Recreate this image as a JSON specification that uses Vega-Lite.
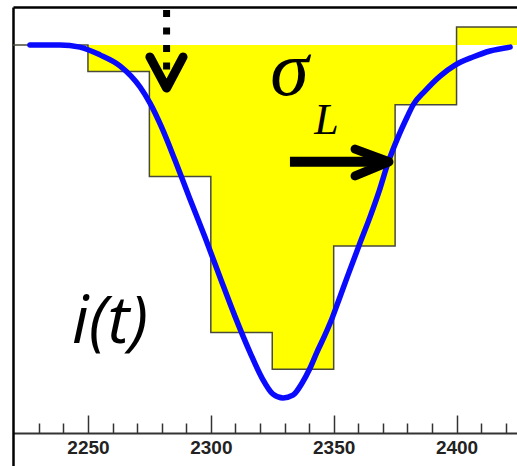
{
  "$schema": "https://vega.github.io/schema/vega-lite/v6.json",
  "width": 504,
  "height": 459,
  "autosize": "none",
  "padding": {"left": 13, "top": 7, "right": 0, "bottom": 0},
  "background": "white",
  "config": {"view": {"stroke": null}},
  "datasets": {
    "steps": [
      {"t": 2219.5, "level": 100},
      {"t": 2250, "level": 92.5},
      {"t": 2275, "level": 62.75},
      {"t": 2300, "level": 18.55},
      {"t": 2325, "level": 8.16},
      {"t": 2350, "level": 43.06},
      {"t": 2375, "level": 83.09},
      {"t": 2400, "level": 105.1},
      {"t": 2424.6, "level": 105.1}
    ],
    "curve": [
      {"t": 2226.4, "i": 100.0}, {"t": 2238.6, "i": 100.0}, {"t": 2246.7, "i": 99.4},
      {"t": 2254.9, "i": 97.2}, {"t": 2263.0, "i": 94.1}, {"t": 2271.2, "i": 88.1},
      {"t": 2275.2, "i": 83.6}, {"t": 2280.1, "i": 76.5}, {"t": 2285.4, "i": 67.4},
      {"t": 2291.5, "i": 56.4}, {"t": 2297.6, "i": 45.6}, {"t": 2303.7, "i": 34.3},
      {"t": 2309.8, "i": 23.2}, {"t": 2315.9, "i": 13.0}, {"t": 2320.8, "i": 5.7},
      {"t": 2325.3, "i": 1.1}, {"t": 2329.4, "i": 0.0}, {"t": 2333.4, "i": 0.8},
      {"t": 2337.1, "i": 4.2}, {"t": 2340.4, "i": 8.5}, {"t": 2343.2, "i": 13.0},
      {"t": 2346.1, "i": 17.3}, {"t": 2348.9, "i": 21.8}, {"t": 2351.8, "i": 27.2},
      {"t": 2355.8, "i": 34.8}, {"t": 2360.7, "i": 43.9}, {"t": 2364.8, "i": 51.3},
      {"t": 2368.5, "i": 58.6}, {"t": 2372.1, "i": 66.6}, {"t": 2376.2, "i": 73.9},
      {"t": 2379.9, "i": 79.6}, {"t": 2382.3, "i": 83.0}, {"t": 2387.2, "i": 87.0},
      {"t": 2393.3, "i": 91.2}, {"t": 2399.4, "i": 94.3}, {"t": 2406.7, "i": 96.6},
      {"t": 2413.6, "i": 98.3}, {"t": 2421.8, "i": 99.4}
    ],
    "shaft": [
      {"part": "L", "ord": 1, "t": 2332.2, "i": 66.9},
      {"part": "L", "ord": 2, "t": 2370.1, "i": 66.9}
    ],
    "heads": [
      {"part": "L", "ord": 1, "t": 2358.7, "i": 70.5},
      {"part": "L", "ord": 2, "t": 2372.5, "i": 66.9},
      {"part": "L", "ord": 3, "t": 2358.7, "i": 62.9},
      {"part": "peak", "ord": 1, "t": 2275.2, "i": 96.6},
      {"part": "peak", "ord": 2, "t": 2282.0, "i": 87.8},
      {"part": "peak", "ord": 3, "t": 2288.7, "i": 96.6}
    ],
    "dotted": [
      {"ord": 1, "t": 2282.0, "i": 109.9},
      {"ord": 2, "t": 2282.0, "i": 92.9}
    ]
  },
  "layer": [
    {
      "data": {"name": "steps"},
      "mark": {"type": "area", "interpolate": "step-after", "color": "#FFFF00"},
      "encoding": {
        "x": {
          "field": "t", "type": "quantitative",
          "scale": {"domain": [2219.5, 2424.6], "nice": false, "zero": false},
          "axis": {
            "title": null,
            "values": [2230, 2240, 2250, 2260, 2270, 2280, 2290, 2300, 2310, 2320, 2330, 2340, 2350, 2360, 2370, 2380, 2390, 2400, 2410, 2420],
            "tickCount": 100,
            "format": "d",
            "offset": -33,
            "grid": false,
            "domainColor": "#333333",
            "domainWidth": 2,
            "tickColor": "#333333",
            "tickWidth": 1.5,
            "tickSize": {"condition": {"test": "datum.value % 50 === 0", "value": -18}, "value": -10},
            "labelExpr": "datum.value % 50 === 0 ? datum.label : ''",
            "labelFont": "Liberation Sans",
            "labelFontWeight": "bold",
            "labelFontSize": 19,
            "labelColor": "#222222",
            "labelPadding": 23,
            "labelFlush": false,
            "labelOverlap": false
          }
        },
        "y": {
          "field": "level", "type": "quantitative",
          "scale": {"domain": [-19.26, 110.76], "nice": false, "zero": false},
          "axis": {
            "title": null,
            "orient": "left",
            "domain": true,
            "domainColor": "#000000",
            "domainWidth": 2.5,
            "ticks": false,
            "labels": false,
            "grid": true,
            "gridColor": "#000000",
            "gridWidth": 2.5,
            "values": [110.76]
          }
        },
        "y2": {"datum": 100}
      }
    },
    {
      "data": {"name": "steps"},
      "mark": {"type": "line", "interpolate": "step-after", "color": "#4a4a3a", "strokeWidth": 1.5},
      "encoding": {
        "x": {"field": "t", "type": "quantitative"},
        "y": {"field": "level", "type": "quantitative"}
      }
    },
    {
      "data": {"name": "curve"},
      "mark": {"type": "line", "interpolate": "monotone", "color": "#0a0aff", "strokeWidth": 5.5, "strokeCap": "round"},
      "encoding": {
        "x": {"field": "t", "type": "quantitative"},
        "y": {"field": "i", "type": "quantitative"}
      }
    },
    {
      "data": {"name": "shaft"},
      "mark": {"type": "line", "color": "#000000", "strokeWidth": 10, "strokeCap": "butt"},
      "encoding": {
        "x": {"field": "t", "type": "quantitative"},
        "y": {"field": "i", "type": "quantitative"},
        "order": {"field": "ord"}
      }
    },
    {
      "data": {"name": "dotted"},
      "mark": {"type": "line", "color": "#000000", "strokeWidth": 7, "strokeCap": "butt", "strokeDash": [7, 10.5]},
      "encoding": {
        "x": {"field": "t", "type": "quantitative"},
        "y": {"field": "i", "type": "quantitative"},
        "order": {"field": "ord"}
      }
    },
    {
      "data": {"name": "heads"},
      "mark": {"type": "line", "color": "#000000", "strokeWidth": 9, "strokeCap": "round", "strokeJoin": "round"},
      "encoding": {
        "x": {"field": "t", "type": "quantitative"},
        "y": {"field": "i", "type": "quantitative"},
        "detail": {"field": "part"},
        "order": {"field": "ord"}
      }
    },
    {
      "data": {"values": [{"label": "σ", "t": 2332.0, "i": 85.8}]},
      "mark": {"type": "text", "font": "Liberation Serif", "fontStyle": "italic", "fontSize": 78, "align": "center", "baseline": "alphabetic", "color": "#000000"},
      "encoding": {
        "x": {"field": "t", "type": "quantitative"},
        "y": {"field": "i", "type": "quantitative"},
        "text": {"field": "label"}
      }
    },
    {
      "data": {"values": [{"label": "L", "t": 2347.1, "i": 74.8}]},
      "mark": {"type": "text", "font": "Liberation Serif", "fontStyle": "italic", "fontSize": 44, "align": "center", "baseline": "alphabetic", "color": "#000000"},
      "encoding": {
        "x": {"field": "t", "type": "quantitative"},
        "y": {"field": "i", "type": "quantitative"},
        "text": {"field": "label"}
      }
    },
    {
      "data": {"values": [{"label": "i(t)", "t": 2259.0, "i": 15.6}]},
      "mark": {"type": "text", "font": "Open Sans", "fontStyle": "italic", "fontSize": 66, "align": "center", "baseline": "alphabetic", "color": "#000000"},
      "encoding": {
        "x": {"field": "t", "type": "quantitative"},
        "y": {"field": "i", "type": "quantitative"},
        "text": {"field": "label"}
      }
    }
  ]
}
